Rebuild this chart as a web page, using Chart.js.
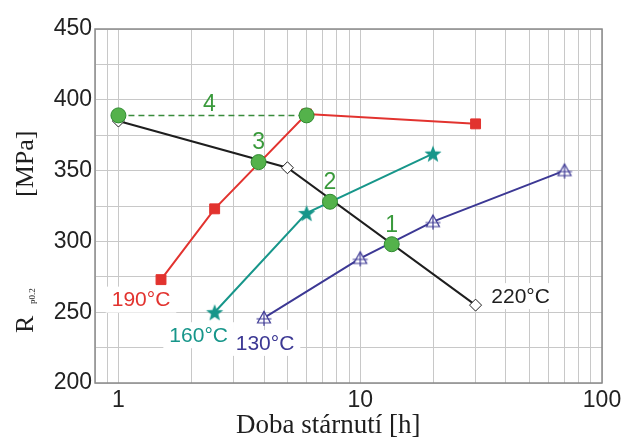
<!DOCTYPE html>
<html>
<head>
<meta charset="utf-8">
<script src="https://cdn.jsdelivr.net/npm/chart.js@4.4.0/dist/chart.umd.min.js"></script>
<style>
    html, body { margin: 0; padding: 0; background: #fff; }
    #wrap { width: 627px; height: 441px; }
</style>
</head>
<body>
<div id="wrap"><canvas id="agingChart" width="627" height="441"></canvas></div>
<script>
// aging curves, Rp0.2 [MPa] vs. aging time [h]
const hours220 = [1, 5, 30];
const rp220 = [385, 352, 255];
const hours190 = [1.5, 2.5, 6, 30];
const rp190 = [273, 323, 390, 383];
const hours160 = [2.5, 6, 20];
const rp160 = [250, 320, 362];
const hours130 = [4, 10, 20, 70];
const rp130 = [246, 288, 314, 350];

// highlighted points 1..4 (4 = both ends of the dashed segment)
const hoursMarked = [13.5, 7.5, 3.8, 1, 6];
const rpMarked = [298, 328, 356, 389, 389];
const markNames = ['1', '2', '3', '4'];
const hoursDashed = [1, 6];
const rpDashed = [389, 389];

const seriesNames = ['220°C', '190°C', '160°C', '130°C'];
const xGridHours = [0.8, 0.9, 1, 2, 3, 4, 5, 6, 7, 8, 9, 10, 20, 30, 40, 50, 60, 70, 80, 90, 100];
const xTickLabels = [1, 10, 100];
const yTickLabels = [200, 250, 300, 350, 400, 450];

const SANS = "'Liberation Sans', Arial, sans-serif";
const SERIF = "'Liberation Serif', 'Times New Roman', serif";
const GREEN_TEXT = '#3a9a3c';

function toPoints(xs, ys) {
    return xs.map(function (v, i) { return { x: v, y: ys[i] }; });
}

function makeStar(color, r) {
    const c = document.createElement('canvas');
    const s = Math.ceil(r * 2 + 4);
    c.width = s; c.height = s;
    const g = c.getContext('2d');
    g.translate(s / 2, s / 2 + r * 0.1);
    g.beginPath();
    for (let i = 0; i < 10; i++) {
        const rad = i % 2 === 0 ? r : r * 0.42;
        const a = -Math.PI / 2 + i * Math.PI / 5;
        g.lineTo(rad * Math.cos(a), rad * Math.sin(a));
    }
    g.closePath();
    g.fillStyle = color;
    g.fill();
    return c;
}

function makeCrossTriangle(color) {
    const c = document.createElement('canvas');
    c.width = 20; c.height = 20;
    const g = c.getContext('2d');
    g.strokeStyle = color;
    g.lineWidth = 1.2;
    g.beginPath();
    g.moveTo(10, 3.5); g.lineTo(16.5, 15); g.lineTo(3.5, 15); g.closePath();
    g.fillStyle = '#fff';
    g.fill();
    g.stroke();
    g.beginPath();
    g.moveTo(10, 3.5); g.lineTo(10, 18);
    g.moveTo(2.5, 11); g.lineTo(17.5, 11);
    g.stroke();
    return c;
}

const starTeal = makeStar('#17968a', 9);
const triBlue = makeCrossTriangle('#3c3894');

// draws the frame, axis titles and the in-plot labels
const chartText = {
    id: 'chartText',
    beforeDatasetsDraw: function (chart) {
        const ctx = chart.ctx, a = chart.chartArea;
        ctx.save();
        ctx.strokeStyle = '#8a8a8a';
        ctx.lineWidth = 1.5;
        ctx.strokeRect(a.left, a.top, a.right - a.left, a.bottom - a.top);
        ctx.restore();
    },
    afterDatasetsDraw: function (chart) {
        const ctx = chart.ctx;
        const xs = chart.scales.x, ys = chart.scales.y;
        ctx.save();
        ctx.textAlign = 'center';
        ctx.textBaseline = 'middle';

        // series names with white boxes, placed next to an end point
        const tags = [
            { text: seriesNames[0], color: '#1e1e1e', hx: hours220[2], ry: rp220[2], dx: 45, dy: -9 },
            { text: seriesNames[1], color: '#e2332f', hx: hours190[0], ry: rp190[0], dx: -20, dy: 20 },
            { text: seriesNames[2], color: '#17968a', hx: hours160[0], ry: rp160[0], dx: -16, dy: 23 },
            { text: seriesNames[3], color: '#3c3894', hx: hours130[0], ry: rp130[0], dx: 1, dy: 25 }
        ];
        ctx.font = '21px ' + SANS;
        tags.forEach(function (t) {
            const px = xs.getPixelForValue(t.hx) + t.dx;
            const py = ys.getPixelForValue(t.ry) + t.dy;
            const w = ctx.measureText(t.text).width;
            ctx.fillStyle = '#fff';
            ctx.fillRect(px - w / 2 - 6, py - 13, w + 12, 26);
            ctx.fillStyle = t.color;
            ctx.fillText(t.text, px, py + 1);
        });

        // numbers above the highlighted points
        ctx.font = '23px ' + SANS;
        ctx.fillStyle = GREEN_TEXT;
        for (let i = 0; i < 3; i++) {
            const px = xs.getPixelForValue(hoursMarked[i]);
            const py = ys.getPixelForValue(rpMarked[i]) - 19;
            ctx.fillText(markNames[i], px, py);
        }
        const midHours = Math.sqrt(hoursDashed[0] * hoursDashed[1]);
        ctx.fillText(markNames[3], xs.getPixelForValue(midHours) - 3, ys.getPixelForValue(rpDashed[0]) - 11);
        ctx.restore();
    },
    afterDraw: function (chart) {
        const ctx = chart.ctx;
        ctx.save();
        ctx.fillStyle = '#1e1e1e';
        ctx.textBaseline = 'alphabetic';
        ctx.textAlign = 'left';

        // x axis title
        ctx.font = '27px ' + SERIF;
        ctx.fillText('Doba stárnutí [h]', 236, 433);

        // y axis title, rotated
        ctx.translate(33, 0);
        ctx.rotate(-Math.PI / 2);
        ctx.font = '26px ' + SERIF;
        ctx.fillText('R', -333, 0);
        ctx.font = '9px ' + SERIF;
        ctx.fillText('p0.2', -304, 2);
        ctx.font = '26px ' + SERIF;
        ctx.fillText('[MPa]', -197, 0);
        ctx.restore();
    }
};

const config = {
    type: 'scatter',
    data: {
        datasets: [
            {
                label: 'marked',
                data: toPoints(hoursMarked, rpMarked),
                showLine: false,
                pointStyle: 'circle',
                pointRadius: 7.5,
                pointBackgroundColor: '#54b24b',
                pointBorderColor: '#2e8a30',
                pointBorderWidth: 1
            },
            {
                label: 'dashed',
                data: toPoints(hoursDashed, rpDashed),
                showLine: true,
                borderColor: '#3a8c3c',
                borderWidth: 1.5,
                borderDash: [6, 4],
                pointRadius: 0
            },
            {
                label: seriesNames[0],
                data: toPoints(hours220, rp220),
                showLine: true,
                borderColor: '#1e1e1e',
                borderWidth: 2,
                pointStyle: 'rectRot',
                pointRadius: 6,
                pointBackgroundColor: '#fff',
                pointBorderColor: '#1e1e1e',
                pointBorderWidth: 1
            },
            {
                label: seriesNames[1],
                data: toPoints(hours190, rp190),
                showLine: true,
                borderColor: '#e2332f',
                borderWidth: 2,
                pointStyle: 'rect',
                pointRadius: 7,
                pointBackgroundColor: '#e2332f',
                pointBorderColor: '#e2332f',
                pointBorderWidth: 1
            },
            {
                label: seriesNames[2],
                data: toPoints(hours160, rp160),
                showLine: true,
                borderColor: '#17968a',
                borderWidth: 2,
                pointStyle: starTeal,
                pointRadius: 9
            },
            {
                label: seriesNames[3],
                data: toPoints(hours130, rp130),
                showLine: true,
                borderColor: '#3c3894',
                borderWidth: 2,
                pointStyle: triBlue,
                pointRadius: 9
            }
        ]
    },
    plugins: [chartText],
    options: {
        responsive: false,
        animation: false,
        devicePixelRatio: 1,
        layout: { padding: { top: 29, right: 25, left: 0, bottom: 0 } },
        plugins: {
            legend: { display: false },
            tooltip: { enabled: false }
        },
        elements: { line: { tension: 0 } },
        scales: {
            x: {
                type: 'logarithmic',
                min: 0.8,
                max: 100,
                afterBuildTicks: function (axis) {
                    axis.ticks = xGridHours.map(function (v) { return { value: v }; });
                },
                afterFit: function (axis) { axis.height = 58; },
                ticks: {
                    autoSkip: false,
                    maxRotation: 0,
                    padding: 4,
                    color: '#222',
                    font: { family: SANS, size: 23 },
                    callback: function (value) {
                        return xTickLabels.includes(value) ? String(value) : '';
                    }
                },
                grid: { color: '#c8c8c8', lineWidth: 1, drawTicks: false },
                border: { display: false }
            },
            y: {
                min: 200,
                max: 450,
                afterFit: function (axis) { axis.width = 95; },
                ticks: {
                    stepSize: 25,
                    padding: 3,
                    color: '#222',
                    font: { family: SANS, size: 23 },
                    callback: function (value) {
                        return yTickLabels.includes(value) ? String(value) : '';
                    }
                },
                grid: { color: '#c8c8c8', lineWidth: 1, drawTicks: false },
                border: { display: false }
            }
        }
    }
};

const ctx = document.getElementById('agingChart');
const agingChart = new Chart(ctx, config);
</script>
</body>
</html>
